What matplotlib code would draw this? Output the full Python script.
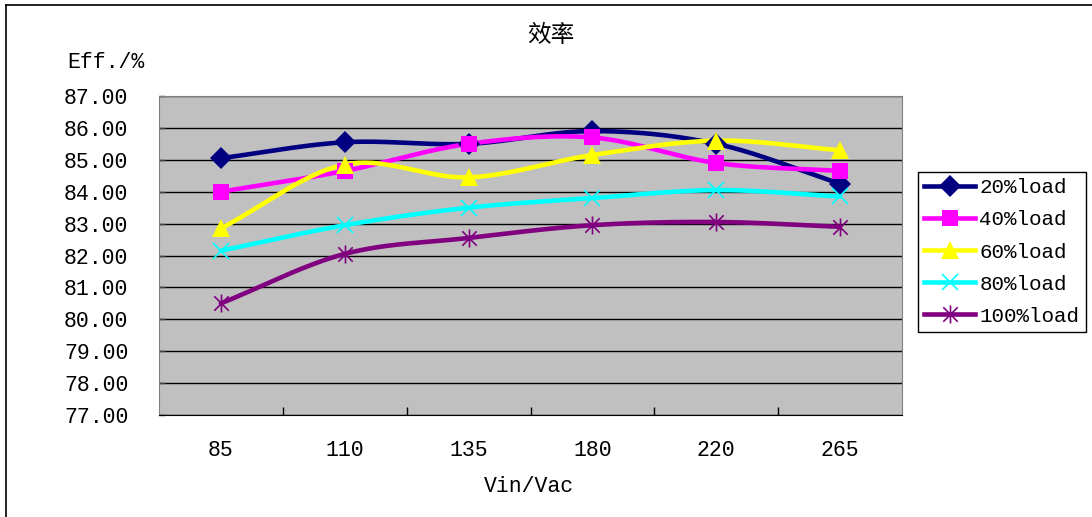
import numpy as np
import matplotlib
matplotlib.use("Agg")
import matplotlib.pyplot as plt
from matplotlib.path import Path
from matplotlib.lines import Line2D

plt.rcParams['font.family'] = ['Liberation Mono', 'Noto Sans CJK SC']

vin = ['85', '110', '135', '180', '220', '265']
load_names = ['20%load', '40%load', '60%load', '80%load', '100%load']
eff_20 = [85.05, 85.55, 85.50, 85.90, 85.50, 84.25]
eff_40 = [84.00, 84.65, 85.50, 85.70, 84.90, 84.65]
eff_60 = [82.85, 84.85, 84.45, 85.15, 85.60, 85.30]
eff_80 = [82.15, 82.95, 83.50, 83.80, 84.05, 83.85]
eff_100 = [80.50, 82.05, 82.55, 82.95, 83.05, 82.90]

colors = ['#000080', '#FF00FF', '#FFFF00', '#00FFFF', '#800080']

# excel style star: vertical bar plus an x
star = Path([(0, -1), (0, 1), (-0.8, -0.8), (0.8, 0.8), (-0.8, 0.8), (0.8, -0.8)],
            [Path.MOVETO, Path.LINETO, Path.MOVETO, Path.LINETO, Path.MOVETO, Path.LINETO])
markers = ['D', 's', '^', 'x', star]
msizes = [11, 11, 13, 12, 13]


def smooth(y, n=30):
    # catmull-rom curve through the points, like excel's smoothed line
    y = np.asarray(y, float)
    x = np.arange(len(y), dtype=float)
    px = np.concatenate([[2 * x[0] - x[1]], x, [2 * x[-1] - x[-2]]])
    py = np.concatenate([[2 * y[0] - y[1]], y, [2 * y[-1] - y[-2]]])
    xs, ys = [], []
    t = np.linspace(0, 1, n, endpoint=False)
    for i in range(1, len(px) - 2):
        for p, out in ((px, xs), (py, ys)):
            p0, p1, p2, p3 = p[i - 1], p[i], p[i + 1], p[i + 2]
            out.extend(0.5 * ((2 * p1) + (-p0 + p2) * t
                              + (2 * p0 - 5 * p1 + 4 * p2 - p3) * t ** 2
                              + (-p0 + 3 * p1 - 3 * p2 + p3) * t ** 3))
    xs.append(x[-1])
    ys.append(y[-1])
    return np.array(xs), np.array(ys)


fig = plt.figure(figsize=(10.92, 5.17), dpi=100)
ax = fig.add_axes([159 / 1092, 102 / 517, 743 / 1092, 319 / 517])
ax.set_facecolor('#C0C0C0')

series = [eff_20, eff_40, eff_60, eff_80, eff_100]
handles = []
for vals, c, m, ms in zip(series, colors, markers, msizes):
    sx, sy = smooth(vals)
    ax.plot(sx, sy, color=c, lw=3.3, zorder=3, solid_capstyle='round')
    mew = 1.2 if m == 'x' or m is star else 0
    ax.plot(range(len(vin)), vals, ls='none', marker=m, ms=ms, color=c,
            mec=c, mew=mew, zorder=4)
    handles.append(Line2D([], [], color=c, lw=3.3, marker=m, ms=ms, mec=c, mew=mew))

ax.set_xlim(-0.5, 5.5)
ax.set_ylim(77, 87)
ax.set_yticks(np.arange(77, 87.1, 1))
ax.set_yticklabels(['%.2f' % v for v in np.arange(77, 87.1, 1)], fontsize=15.5)
ax.yaxis.grid(True, color='black', lw=1)
ax.set_axisbelow(True)
ax.set_xticks(range(len(vin)))
ax.set_xticklabels(vin, fontsize=15.5)
ax.set_xticks(np.arange(0.5, 5, 1), minor=True)
ax.tick_params(axis='x', which='major', length=0, pad=18)
ax.tick_params(axis='x', which='minor', direction='in', length=6, width=1, color='black')
ax.tick_params(axis='y', direction='in', length=4, width=1, pad=22, color='#404040')
for s in ['top', 'right', 'left']:
    ax.spines[s].set_color('#808080')
ax.spines['bottom'].set_color('black')

fig.text(551 / 1092, 1 - 35 / 517, '效率', ha='center', va='center',
         fontsize=17, family='Noto Sans CJK SC')
fig.text(67 / 1092, 1 - 62 / 517, 'Eff./%', ha='left', va='center', fontsize=15.5)
fig.text(529 / 1092, 1 - 487 / 517, 'Vin/Vac', ha='center', va='center', fontsize=15.5)

leg = fig.legend(handles, load_names, loc='upper left',
                 bbox_to_anchor=(918 / 1092, 1 - 172 / 517), fontsize=15,
                 handlelength=2.45, handletextpad=0.2, labelspacing=0.63,
                 borderpad=0.3, borderaxespad=0, fancybox=False, framealpha=1)
leg.get_frame().set_edgecolor('black')
leg.get_frame().set_linewidth(1)

# outer chart border (top and left edges)
fig.add_artist(Line2D([6 / 1092, 6 / 1092], [0, 1 - 5 / 517], color='black', lw=1.2,
                      transform=fig.transFigure))
fig.add_artist(Line2D([6 / 1092, 1], [1 - 5 / 517, 1 - 5 / 517], color='black', lw=1.2,
                      transform=fig.transFigure))

fig.savefig('out.png', dpi=100)
